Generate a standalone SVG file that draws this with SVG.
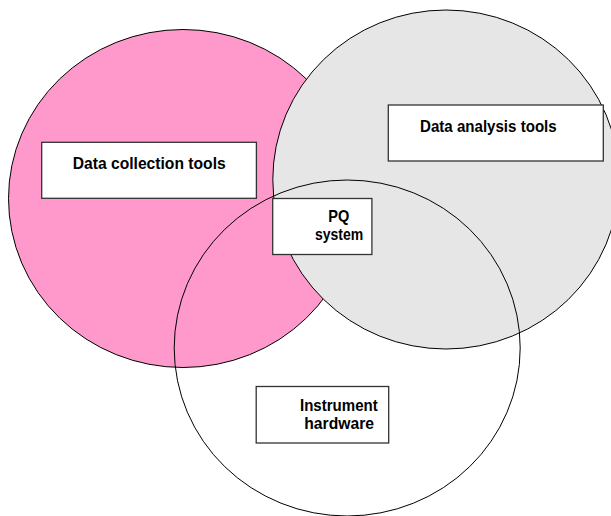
<svg xmlns="http://www.w3.org/2000/svg" width="611" height="516" viewBox="0 0 611 516">
<style>
.c{stroke:#000;stroke-width:1}
.b{fill:#fff;stroke:#333;stroke-width:1.3}
.t{font-family:"Liberation Sans",Arial,sans-serif;font-weight:bold;font-size:17px;fill:#000}
</style>
<rect width="611" height="516" fill="#fff"/>
<g id="circles">
<ellipse id="collection-circle" class="c" cx="183" cy="198.5" rx="174.5" ry="169" fill="#FF99CC"/>
<ellipse id="analysis-circle" class="c" cx="446" cy="179.5" rx="173.2" ry="169.5" fill="#E6E6E6"/>
<ellipse id="hardware-circle" class="c" cx="347.2" cy="348" rx="173" ry="168" fill="none"/>
</g>
<g id="connectors"></g>
<g id="node-collection">
<rect class="b" x="41.7" y="142.3" width="214.7" height="56"/>
<text class="t" x="72.7" y="169.3" textLength="153" lengthAdjust="spacingAndGlyphs">Data collection tools</text>
</g>
<g id="node-analysis">
<rect class="b" x="388.3" y="105" width="215" height="56"/>
<text class="t" x="420" y="132" textLength="136.7" lengthAdjust="spacingAndGlyphs">Data analysis tools</text>
</g>
<g id="node-pq">
<rect class="b" x="272.7" y="198.5" width="99.2" height="56"/>
<text class="t" x="328.3" y="222.3" textLength="21" lengthAdjust="spacingAndGlyphs">PQ</text>
<text class="t" x="315" y="240.3" textLength="48.3" lengthAdjust="spacingAndGlyphs">system</text>
</g>
<g id="node-hardware">
<rect class="b" x="256.2" y="386.5" width="132.5" height="56.5"/>
<text class="t" x="300" y="410.7" textLength="77.7" lengthAdjust="spacingAndGlyphs">Instrument</text>
<text class="t" x="304.3" y="429" textLength="69.7" lengthAdjust="spacingAndGlyphs">hardware</text>
</g>
</svg>
